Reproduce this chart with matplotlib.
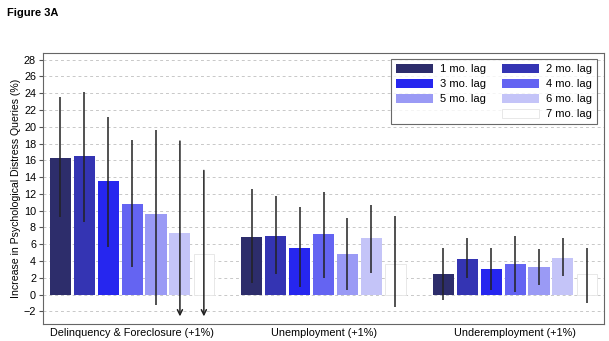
import numpy as np
import matplotlib.pyplot as plt
from matplotlib.patches import Patch

plt.rcParams['font.family'] = ['Liberation Sans', 'DejaVu Sans']

groups = ['Delinquency & Foreclosure (+1%)', 'Unemployment (+1%)', 'Underemployment (+1%)']
lags = ['1 mo. lag', '2 mo. lag', '3 mo. lag', '4 mo. lag', '5 mo. lag', '6 mo. lag', '7 mo. lag']
colors = ['#2d2d6b', '#3434b3', '#2626ef', '#6464f2', '#9a9af5', '#c4c4f8', '#ffffff']

# estimates per group, one value per lag
est_delinq = [16.3, 16.5, 13.6, 10.8, 9.6, 7.3, 4.8]
est_unemp = [6.9, 7.0, 5.5, 7.2, 4.8, 6.7, 3.7]
est_under = [2.4, 4.3, 3.1, 3.7, 3.3, 4.4, 2.5]

# confidence intervals
lo_delinq = [9.2, 8.7, 5.7, 3.3, -1.3, -4.0, -6.0]
hi_delinq = [23.6, 24.1, 21.2, 18.4, 19.6, 18.3, 14.8]
lo_unemp = [1.4, 2.4, 0.9, 2.0, 0.5, 2.6, -1.5]
hi_unemp = [12.6, 11.7, 10.4, 12.2, 9.1, 10.7, 9.4]
lo_under = [-0.6, 2.0, 0.5, 0.3, 1.1, 2.2, -1.0]
hi_under = [5.5, 6.8, 5.6, 7.0, 5.4, 6.7, 5.6]

est = [est_delinq, est_unemp, est_under]
lo = [lo_delinq, lo_unemp, lo_under]
hi = [hi_delinq, hi_unemp, hi_under]

ymin, ymax = -3.5, 28.8
clip = -2.6  # lower CIs below this are drawn as arrows

fig = plt.figure(figsize=(6.09, 3.41), dpi=100)
ax = fig.add_axes([0.0706, 0.05, 0.921, 0.7946])
fig.text(0.012, 0.978, 'Figure 3A', fontsize=8, fontweight='bold', va='top')

ax.set_axisbelow(True)
ax.yaxis.grid(True, linestyle=(0, (3, 3)), color='#c8c8c8', linewidth=0.7)

handles = []
for i, lag in enumerate(lags):
    x = np.arange(len(groups)) * 8 + i
    vals = [e[i] for e in est]
    if colors[i] == '#ffffff':
        b = ax.bar(x, vals, width=0.86, color=colors[i], edgecolor='#e4e4e4', linewidth=0.6, label=lag, zorder=2)
    else:
        b = ax.bar(x, vals, width=0.88, color=colors[i], linewidth=0, label=lag, zorder=2)
    handles.append(b)
    for g in range(len(groups)):
        l, h = lo[g][i], hi[g][i]
        if l < clip:
            ax.annotate('', xy=(x[g], clip), xytext=(x[g], h),
                        arrowprops=dict(arrowstyle='->', color='#222222', lw=1.1,
                                        shrinkA=0, shrinkB=0, mutation_scale=9), zorder=3)
        else:
            ax.vlines(x[g], l, h, color='#222222', linewidth=1.1, zorder=3)

ax.set_xlim(-0.72, 22.71)
ax.set_ylim(ymin, ymax)
ax.set_yticks(np.arange(-2, 29, 2))
ax.set_xticks(np.arange(len(groups)) * 8 + 3)
ax.set_xticklabels(groups)
ax.tick_params(axis='x', length=0, labelsize=7.8, pad=3)
ax.tick_params(axis='y', length=3, labelsize=7.8, pad=2, color='#555555')
ax.set_ylabel('Increase in Psychological Distress Queries (%)', fontsize=7.6, labelpad=2)
for s in ax.spines.values():
    s.set_color('#666666')
    s.set_linewidth(0.8)

blank = Patch(facecolor='none', edgecolor='none', label=' ')
order = [handles[0], handles[2], handles[4], blank, handles[1], handles[3], handles[5], handles[6]]
labels = [lags[0], lags[2], lags[4], '', lags[1], lags[3], lags[5], lags[6]]
leg = ax.legend(order, labels, ncol=2, loc='upper right', bbox_to_anchor=(0.9975, 1.0),
                fontsize=8, frameon=True, fancybox=False, edgecolor='#444444',
                handlelength=3.3, handleheight=0.9, columnspacing=1.4, labelspacing=0.42,
                borderpad=0.45, handletextpad=0.66)
leg.get_frame().set_linewidth(0.8)

fig.savefig('out.png', dpi=100)
